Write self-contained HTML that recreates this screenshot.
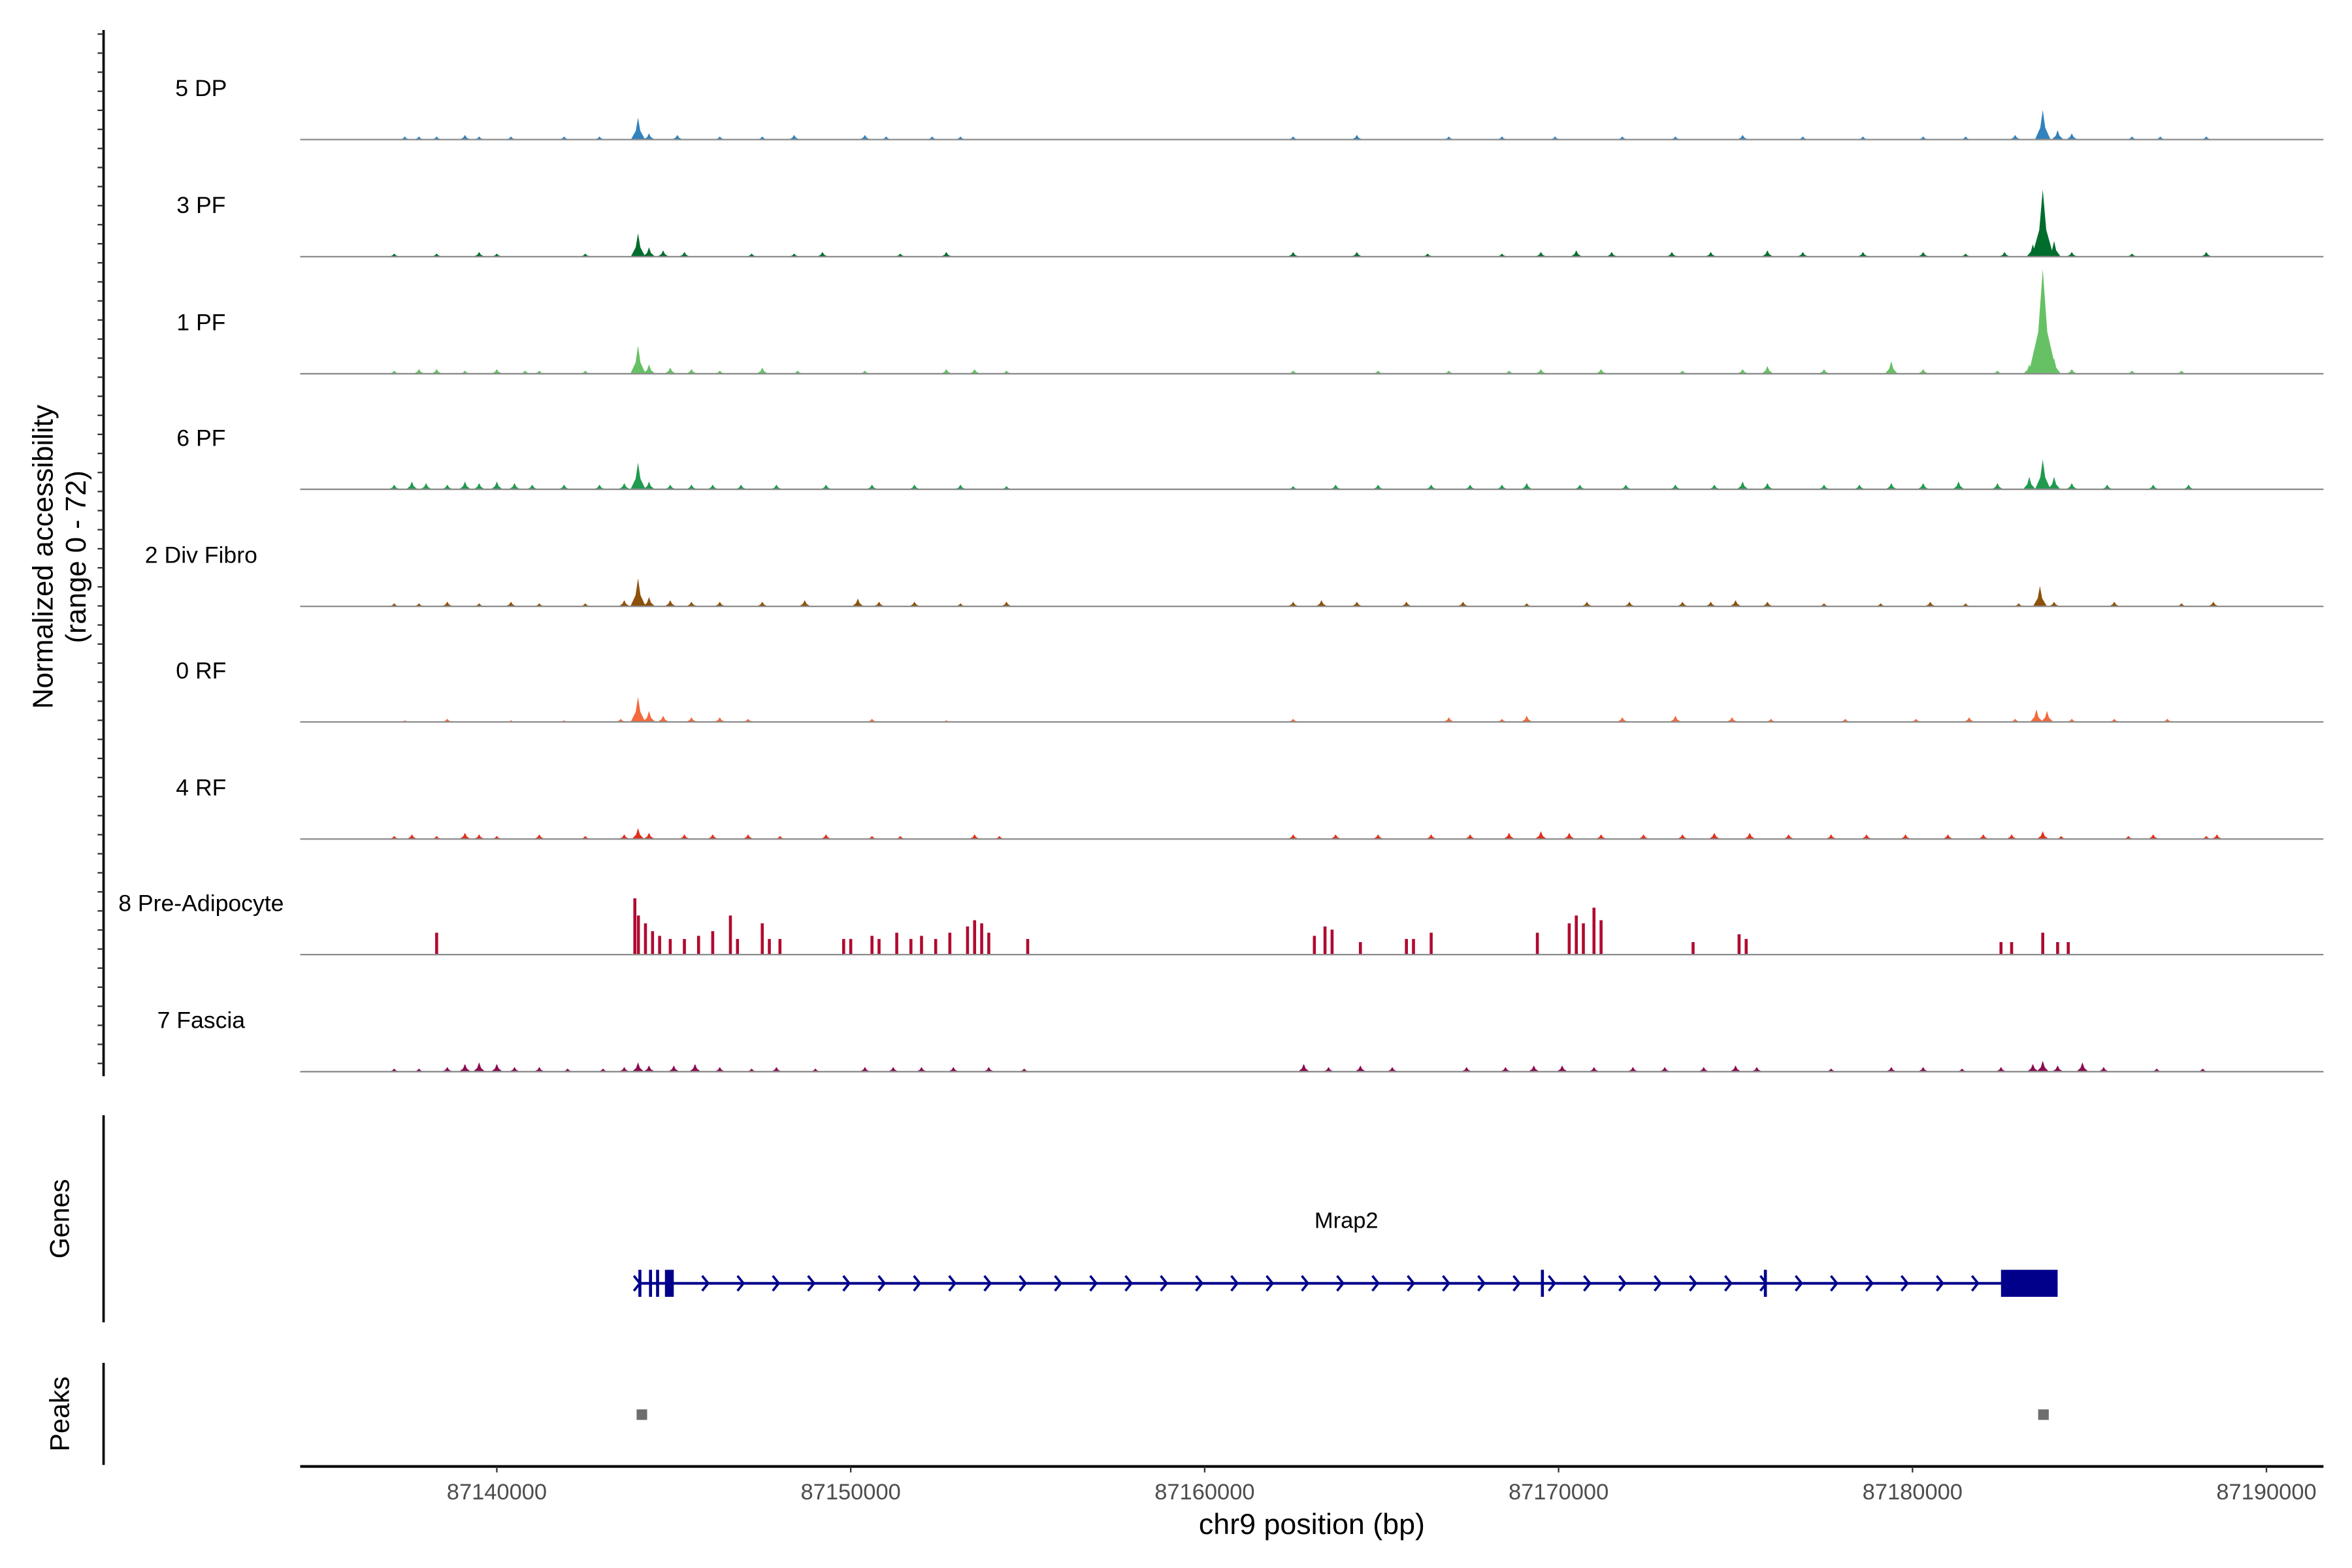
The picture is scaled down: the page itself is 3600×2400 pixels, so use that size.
<!DOCTYPE html>
<html><head><meta charset="utf-8"><style>
html,body{margin:0;padding:0;background:#fff;}
svg{display:block;font-family:"Liberation Sans",sans-serif;}
</style></head><body>
<svg id="chart" width="3600" height="2400" viewBox="0 0 1567 1044.67" xmlns="http://www.w3.org/2000/svg">
<g id="axes"></g>
<g id="tracks"></g>
<g id="genes"></g>
<g id="peaks"></g>
</svg>
<script>
// ---- data (positions in kb offset from 87,000,000; values in normalized accessibility, range 0-72)
const trackNames = ["5 DP","3 PF","1 PF","6 PF","2 Div Fibro","0 RF","4 RF","8 Pre-Adipocyte","7 Fascia"];
const trackColors = ["#3182bd","#006d2c","#66c164","#1f9a4e","#8c510a","#f4693b","#e0301e","#b00a30","#8b0a50"];
const xTicks = [87140000,87150000,87160000,87170000,87180000,87190000];
const pos0 = [137.4,137.8,138.3,139.1,139.5,140.4,141.9,142.9,143.99,144.3,145.1,146.3,147.5,148.4,150.4,151.0,152.3,153.1,162.5,164.3,166.9,168.4,169.9,171.8,173.3,175.2,176.9,178.6,180.3,181.5,182.9,183.68,184.1,184.5,186.2,187.0,188.3];
const val0  = [2,2,2,3,2,2,2,2,14,4,3,2,2,3,3,2,2,2,2,3,2,2,2,2,2,3,2,2,2,2,3,19,6,4,2,2,2];
const pos1 = [137.1,138.3,139.5,140.0,142.5,143.99,144.3,144.7,145.3,147.2,148.4,149.2,151.4,152.7,162.5,164.3,166.3,168.4,169.5,170.5,171.5,173.2,174.3,175.9,176.9,178.6,180.3,181.5,182.6,183.4,183.68,184.0,184.5,186.2,188.3];
const val1  = [2,2,3,2,2,15,6,4,3,2,2,3,2,3,3,3,2,2,3,4,3,3,3,4,3,3,3,2,3,8,43,10,3,2,3];
const pos2 = [137.1,137.8,138.3,139.1,140.0,140.8,141.2,142.5,143.99,144.3,144.9,145.5,146.3,147.5,148.5,150.4,152.7,153.5,154.4,162.5,164.9,166.9,168.6,169.5,171.2,173.5,175.2,175.9,177.5,179.4,180.3,182.4,183.3,183.68,184.0,184.5,186.2,187.6];
const val2  = [2,3,3,2,3,2,2,2,18,6,4,3,2,4,2,2,3,3,2,2,2,2,2,3,3,2,3,5,3,8,3,2,6,67,10,3,2,2];
const pos3 = [137.1,137.6,138.0,138.6,139.1,139.5,140.0,140.5,141.0,141.9,142.9,143.6,143.99,144.3,144.9,145.5,146.1,146.9,147.9,149.3,150.6,151.8,153.1,154.4,162.5,163.7,164.9,166.4,167.5,168.4,169.1,170.6,171.9,173.3,174.4,175.2,175.9,177.5,178.5,179.4,180.3,181.3,182.4,183.3,183.68,184.0,184.5,185.5,186.8,187.8];
const val3  = [3,5,4,3,5,4,5,4,3,3,3,4,17,5,3,3,3,3,3,3,3,3,3,2,2,3,3,3,3,3,4,3,3,3,3,5,4,3,3,4,4,5,4,8,19,8,4,3,3,3];
const pos4 = [137.1,137.8,138.6,139.5,140.4,141.2,142.5,143.6,143.99,144.3,144.9,145.5,146.3,147.5,148.7,150.2,150.8,151.8,153.1,154.4,162.5,163.3,164.3,165.7,167.3,169.1,170.8,172.0,173.5,174.3,175.0,175.9,177.5,179.1,180.5,181.5,183.0,183.6,184.0,185.7,187.6,188.5];
const val4  = [2,2,3,2,3,2,2,4,18,6,4,3,3,3,4,5,3,3,2,3,3,4,3,3,3,2,3,3,3,3,4,3,2,2,3,2,2,13,3,3,2,3];
const pos5 = [137.4,138.6,140.4,141.9,143.5,143.99,144.3,144.7,145.5,146.3,147.1,150.6,152.7,162.5,166.9,168.4,169.1,171.8,173.3,174.9,176.0,178.1,180.1,181.6,182.9,183.5,183.8,184.5,185.7,187.2];
const val5  = [1,2,1,1,2,16,7,4,3,3,2,2,1,2,3,2,4,3,4,3,2,2,2,3,2,8,7,2,2,2];
const pos6 = [137.1,137.6,138.3,139.1,139.5,140.0,141.2,142.5,143.6,143.99,144.3,145.3,146.1,147.1,148.0,149.3,150.6,151.4,153.5,154.2,162.5,163.7,164.9,166.4,167.5,168.6,169.5,170.3,171.2,172.4,173.5,174.4,175.4,176.5,177.7,178.7,179.8,181.0,182.0,182.8,183.68,184.2,186.1,186.8,188.3,188.6];
const val6  = [2,3,2,4,3,2,3,2,3,7,4,3,3,3,2,3,2,2,3,2,3,3,3,3,3,4,5,4,3,3,3,4,4,3,3,3,3,3,3,3,5,2,2,3,2,3];
const pos7 = [138.3,143.9,144.0,144.2,144.4,144.6,144.9,145.3,145.7,146.1,146.6,146.8,147.5,147.7,148.0,149.8,150.0,150.6,150.8,151.3,151.7,152.0,152.4,152.8,153.3,153.5,153.7,153.9,155.0,163.1,163.4,163.6,164.4,165.7,165.9,166.4,169.4,170.3,170.5,170.7,171.0,171.2,173.8,175.1,175.3,182.5,182.8,183.68,184.1,184.4];
const val7  = [14,36,25,20,15,12,10,10,12,15,25,10,20,10,10,10,10,12,10,14,10,12,10,14,18,22,20,14,10,12,18,16,8,10,10,14,14,20,25,20,30,22,8,13,10,8,8,14,8,8];
const pos8 = [137.1,137.8,138.6,139.1,139.5,140.0,140.5,141.2,142.0,143.0,143.6,143.99,144.3,145.0,145.6,146.3,147.2,147.9,149.0,150.4,151.2,152.0,152.9,153.9,154.9,162.8,163.5,164.4,165.3,167.4,168.5,169.3,170.1,171.0,172.1,173.0,174.1,175.0,175.6,177.7,179.4,180.3,181.4,182.5,183.4,183.68,184.1,184.8,185.4,186.9,188.2];
const val8  = [2,2,3,5,6,5,3,3,2,2,3,6,4,4,5,3,2,3,2,3,3,3,3,3,2,5,3,4,3,3,3,4,4,3,3,3,3,4,3,2,3,3,2,3,5,7,4,6,3,2,2];
const trackPos = [pos0,pos1,pos2,pos3,pos4,pos5,pos6,pos7,pos8];
const trackVal = [val0,val1,val2,val3,val4,val5,val6,val7,val8];
// gene model (kb)
const geneStart = 144.0, geneEnd = 184.1;
const exonStarts = [144.0,144.3,144.5,144.75,169.5,175.8,182.5];
const exonEnds   = [144.05,144.35,144.55,145.0,169.57,175.85,184.1];
const peakStarts = [143.95,183.55];
const peakEnds   = [144.2,183.85];
const yRange = 72;

// ---- layout
const NS = "http://www.w3.org/2000/svg";
const X0 = 331, PXPERKB = 23.58;
function xs(kb){ return X0 + (kb - 140) * PXPERKB; }
function xbp(bp){ return xs(bp/1000 - 87000); }
const baseY = [93,171,249,326,404,481,559,636,714];
const TRACK_H = 75;
function ys(i, v){ return baseY[i] - v / yRange * TRACK_H; }
function mk(tag, attrs, parent){ const e=document.createElementNS(NS,tag); for(const k in attrs) e.setAttribute(k,attrs[k]); parent.appendChild(e); return e; }

const axes = document.getElementById('axes');
const tracks = document.getElementById('tracks');
const genes = document.getElementById('genes');
const peaks = document.getElementById('peaks');

// left axes
let la = mk('line',{x1:69,y1:20,x2:69,y2:717,stroke:'#000','stroke-width':1.6},axes);


for(let y=22.7;y<717;y+=12.7){ const t=mk('line',{x1:65,y1:y,x2:69,y2:y,stroke:'#333','stroke-width':1},axes);

 }
let ga = mk('line',{x1:69,y1:743,x2:69,y2:881,stroke:'#000','stroke-width':1.6},axes);


let pa = mk('line',{x1:69,y1:908,x2:69,y2:976,stroke:'#000','stroke-width':1.6},axes);


function vtext(x,y,s,size,name){ const t=mk('text',{x:x,y:y,'font-size':size,'text-anchor':'middle',transform:`rotate(-90 ${x} ${y})`,fill:'#000'},axes); t.textContent=s;

 }
vtext(35,371,'Normalized accessibility',19,'y-axis-title');
vtext(57,371,'(range 0 - 72)',19,'y-axis-range');
vtext(46,812,'Genes',18,'genes-axis-title');
vtext(46,942,'Peaks',18,'peaks-axis-title');

// x axis
let xa = mk('line',{x1:200,y1:977,x2:1548,y2:977,stroke:'#000','stroke-width':1.8},axes);


xTicks.forEach(v=>{
  const x=xbp(v);
  const t=mk('line',{x1:x,y1:977,x2:x,y2:981,stroke:'#333','stroke-width':1},axes);
  
  
  const l=mk('text',{x:x,y:999,'font-size':15,'text-anchor':'middle',fill:'#4d4d4d'},axes); l.textContent=String(v);
  
  
});
let xt = mk('text',{x:874,y:1022,'font-size':19.5,'text-anchor':'middle',fill:'#000'},axes); xt.textContent='chr9 position (bp)';



// coverage tracks
trackNames.forEach((name,i)=>{
  const g=mk('g',{},tracks);
  
  
  const lab=mk('text',{x:134,y:baseY[i]-29,'font-size':15.5,'text-anchor':'middle',fill:'#000'},g); lab.textContent=name;
  
  
  const P=trackPos[i], V=trackVal[i];
  for(let j=0;j<P.length;j++){
    const x=xs(P[j]), y=ys(i,V[j]), b=baseY[i];
    let el;
    if(i===7){
      el=mk('rect',{x:x-1,y:y,width:2,height:b-y,fill:trackColors[i]},g);
    } else {
      const hw=1.6+V[j]*0.04;
      el=mk('path',{d:`M${x-hw*2.2},${b} L${x-hw*0.7},${ys(i,V[j]*0.4)} L${x},${y} L${x+hw*0.7},${ys(i,V[j]*0.4)} L${x+hw*2.2},${b} Z`,fill:trackColors[i]},g);
    }
    
    
  }
  const bl=mk('line',{x1:200,y1:baseY[i],x2:1548,y2:baseY[i],stroke:'#8c8c8c','stroke-width':1},g);
  
  
});

// gene track
const gy=855, gc='#00008b';
let gl=mk('line',{x1:xs(geneStart),y1:gy,x2:xs(geneEnd),y2:gy,stroke:gc,'stroke-width':1.8},genes);


for(let x=xs(geneStart)+22;x<xs(182.4);x+=23.5){
  const c=mk('path',{d:`M${x-3},${gy-5} L${x+1},${gy} L${x-3},${gy+5}`,fill:'none',stroke:gc,'stroke-width':1.6},genes);
  
  
}
let c0=mk('path',{d:`M${xs(geneStart)-3},${gy-5} L${xs(geneStart)+1},${gy} L${xs(geneStart)-3},${gy+5}`,fill:'none',stroke:gc,'stroke-width':1.6},genes);


exonStarts.forEach((s,k)=>{
  const x1=xs(s), w=Math.max(2,xs(exonEnds[k])-x1);
  const r=mk('rect',{x:x1,y:gy-9,width:w,height:18,fill:gc},genes);
  
  
});
let gn=mk('text',{x:897,y:818,'font-size':15,'text-anchor':'middle',fill:'#000'},genes); gn.textContent='Mrap2';



// peaks
peakStarts.forEach((s,k)=>{
  const x1=xs(s), w=Math.max(7,xs(peakEnds[k])-x1);
  const r=mk('rect',{x:x1,y:939,width:w,height:7,fill:'#6e6e6e'},peaks);
  
  
});
</script>
</body></html>
